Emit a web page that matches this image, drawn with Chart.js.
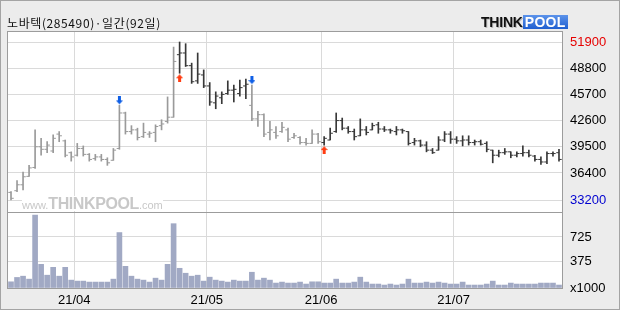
<!DOCTYPE html>
<html>
<head>
<meta charset="utf-8">
<script src="https://cdn.jsdelivr.net/npm/chart.js@4.4.0/dist/chart.umd.min.js"></script>
<style>
html, body { margin: 0; padding: 0; }
body { width: 620px; height: 310px; overflow: hidden; }
#frame { position: relative; width: 620px; height: 310px; background: #ececec; font-family: "Liberation Sans", Arial, sans-serif; }
#chart { position: absolute; left: 0; top: 0; }
#edge { position: absolute; left: 0; top: 0; width: 620px; height: 310px; box-sizing: border-box; border: 1px solid #a4a4a4; pointer-events: none; }
#title { position: absolute; left: 7px; top: 14px; font: 12px "Noto Sans CJK KR", sans-serif; color: #111; white-space: nowrap; letter-spacing: 0.6px; }
#logo { position: absolute; left: 481px; top: 15px; height: 14px; white-space: nowrap; font: bold 14px "Liberation Sans", Arial, sans-serif; line-height: 14px; }
#logo .think { color: #111; text-shadow: 1px 1px 0 #bbb; letter-spacing: -0.2px; }
#logo .pool { display: inline-block; background: linear-gradient(#5c93ea, #1f5fd0); color: #fff; padding: 0 2px; letter-spacing: 0.3px; }
#wm { position: absolute; left: 22px; top: 196px; height: 15px; background: #fff; color: #c8c8c8; white-space: nowrap; font-family: "Liberation Sans", Arial, sans-serif; line-height: 15px; }
#wm .s { font-size: 11px; }
#wm .b { font-size: 16px; font-weight: bold; letter-spacing: -0.4px; }
</style>
</head>
<body>
<div id="frame">
  <canvas id="chart" width="620" height="310"></canvas>
  <div id="wm"><span class="s">www.</span><span class="b">THINKPOOL</span><span class="s">.com</span></div>
  <div id="title">노바텍(285490)·일간(92일)</div>
  <div id="logo"><span class="think">THINK</span><span class="pool">POOL</span></div>
  <div id="edge"></div>
</div>
<script>
// trading days shown on the chart
const dates = [
  '21/03/17','21/03/18','21/03/19','21/03/22','21/03/23','21/03/24','21/03/25','21/03/26','21/03/29','21/03/30','21/03/31',
  '21/04/01','21/04/02','21/04/05','21/04/06','21/04/07','21/04/08','21/04/09','21/04/12','21/04/13','21/04/14','21/04/15',
  '21/04/16','21/04/19','21/04/20','21/04/21','21/04/22','21/04/23','21/04/26','21/04/27','21/04/28','21/04/29','21/04/30',
  '21/05/03','21/05/04','21/05/06','21/05/07','21/05/10','21/05/11','21/05/12','21/05/13','21/05/14','21/05/17','21/05/18',
  '21/05/20','21/05/21','21/05/24','21/05/25','21/05/26','21/05/27','21/05/28','21/05/31',
  '21/06/01','21/06/02','21/06/03','21/06/04','21/06/07','21/06/08','21/06/09','21/06/10','21/06/11','21/06/14','21/06/15',
  '21/06/16','21/06/17','21/06/18','21/06/21','21/06/22','21/06/23','21/06/24','21/06/25','21/06/28','21/06/29','21/06/30',
  '21/07/01','21/07/02','21/07/05','21/07/06','21/07/07','21/07/08','21/07/09','21/07/12','21/07/13','21/07/14','21/07/15',
  '21/07/16','21/07/19','21/07/20','21/07/21','21/07/22','21/07/23','21/07/26'
];

const opens = [
  34100,34300,35000,36000,37050,39500,39200,39000,41000,40200,
  38800,38500,39300,38600,38100,38300,38000,37900,39300,43500,
  41300,41500,40700,41000,41200,42000,42500,43000,50400,50600,
  49100,47300,48000,46700,44700,45300,45800,46200,45800,46700,
  44400,42800,43300,41200,41200,41300,41500,40600,40600,40000,
  39900,41000,40000,40300,41300,42600,41700,41300,40800,41500,
  41500,42100,41600,41500,41300,41500,41300,40000,40200,39700,
  39100,39100,40300,41000,40400,40200,40300,40000,40100,39900,
  39100,38500,38800,38900,38500,38700,38800,38400,38000,37700,
  38700,38800
];
const highs = [
  34200,35500,36500,37300,41500,40500,40100,40900,41300,40300,
  38900,39900,39600,38700,38600,38600,38200,39300,44400,43600,
  42000,41700,42300,41300,42100,42700,45400,51300,51900,51700,
  49400,50600,48600,47100,46000,46000,47300,46800,47400,47500,
  46800,43700,43400,42500,41900,42400,41700,41100,40700,40500,
  41500,41100,40700,41700,43500,42900,41900,41600,42800,41900,
  42300,42400,41900,41600,41900,41600,41300,40500,40300,40100,
  39300,40700,41300,41300,40700,40800,40800,40300,40300,40100,
  39100,39100,39300,38900,38900,39600,39100,38500,38300,38900,
  38900,39200
];
const lows = [
  33200,34200,34400,36000,36950,38500,38800,38800,40100,38300,
  37800,38400,38400,37800,37900,37800,37300,37900,39200,41000,
  41000,40300,40600,40600,40100,41500,42300,43000,48200,49000,
  47000,47000,46500,44400,44000,44600,45700,44800,45500,45200,
  42600,41900,40700,40300,40500,41200,40100,40500,39800,39700,
  39900,39900,39700,40300,41200,41500,41100,40300,40800,40900,
  41500,41100,41300,41100,40900,41100,39700,39700,39500,38900,
  38700,39100,40100,39900,39900,39600,39700,39700,39700,38900,
  37600,38300,38600,38200,38300,38400,38300,37800,37400,37500,
  38400,37800
];
const closes = [
  33400,35000,35950,37000,39500,39200,39700,40500,40800,38500,
  38300,39300,38600,38000,38300,38000,37600,39100,43500,41300,
  41500,40600,41200,41100,41900,42200,43000,49600,50600,49100,
  47200,48100,46700,44800,45500,45700,46200,46300,46500,46900,
  42800,43300,41000,41500,40800,41800,40400,40800,40000,39900,
  41000,40100,40500,41100,42600,41700,41300,40700,41500,41200,
  42000,41600,41500,41400,41500,41400,39900,40200,39700,39100,
  38800,40300,41000,40400,40200,40300,40000,40100,39800,39200,
  38500,38800,38900,38500,38700,38800,38500,38000,37700,38700,
  38700,38000
];
// volume, in thousands of shares
const volumes = [
  88,150,168,126,1036,336,182,294,168,294,
  112,98,98,84,84,84,84,126,788,308,
  168,126,112,84,140,112,336,914,280,210,
  168,182,98,154,112,98,84,112,98,98,
  224,112,140,112,70,84,70,70,84,56,
  88,88,70,70,126,70,70,84,154,84,
  56,56,42,56,42,56,126,70,70,84,
  70,84,70,56,56,84,42,42,42,56,
  98,42,42,70,56,56,56,56,70,70,
  70,42
];
// signal days: buy = red up arrow, sell = blue down arrow
const buyDays = [28, 52];
const sellDays = [18, 40];

const priceTicks = [51900, 48800, 45700, 42600, 39500, 36400, 33200];
const volumeTicks = [725, 375, 0];

const GREY = '#9a9a9a';
const DARK = '#383838';

// bars are dark while the last signal was a buy
const barColors = dates.map((_, i) => {
  const lastBuy = Math.max(-1, ...buyDays.filter(d => d <= i));
  const lastSell = Math.max(-1, ...sellDays.filter(d => d <= i));
  return lastBuy > lastSell ? DARK : GREY;
});

const monthStarts = dates.map((d, i) => i).filter(i => i > 0 && dates[i].slice(0, 5) !== dates[i - 1].slice(0, 5));

function makeArrow(fill, down) {
  const w = 7, h = 8, gap = 1;
  const c = document.createElement('canvas');
  c.width = w;
  c.height = 2 * (h + gap);
  const g = c.getContext('2d');
  if (!down) { g.translate(0, c.height); g.scale(1, -1); }
  g.fillStyle = fill;
  g.beginPath();
  g.moveTo(2, 0); g.lineTo(5, 0); g.lineTo(5, 4); g.lineTo(7, 4);
  g.lineTo(3.5, h); g.lineTo(0, 4); g.lineTo(2, 4);
  g.closePath();
  g.fill();
  return c;
}

const framePlugin = {
  id: 'frame',
  beforeDraw(chart) {
    const { ctx, chartArea: a } = chart;
    ctx.save();
    ctx.fillStyle = '#ffffff';
    ctx.fillRect(a.left, a.top, a.width, a.height);
    ctx.restore();
  },
  afterDatasetsDraw(chart) {
    const { ctx, chartArea: a } = chart;
    const l = Math.round(a.left) - 0.5, r = Math.round(a.right) + 0.5;
    const t = Math.round(a.top) - 0.5, b = Math.round(a.bottom) + 0.5;
    const mid = Math.round(chart.scales.y.bottom) + 0.5;
    ctx.save();
    ctx.strokeStyle = '#9c9c9c';
    ctx.lineWidth = 1;
    ctx.strokeRect(l, t, r - l, b - t);
    ctx.beginPath();
    ctx.moveTo(l, mid);
    ctx.lineTo(r, mid);
    ctx.stroke();
    ctx.restore();
  }
};

const idx = dates.map((_, i) => i);
const gridColor = '#dadada';
const tickFont = { family: '"Liberation Sans Narrow", "Liberation Sans", Arial, sans-serif', size: 13 };

new Chart(document.getElementById('chart'), {
  type: 'bar',
  data: {
    datasets: [
      {
        type: 'line', showLine: false,
        data: sellDays.map(i => ({ x: i, y: highs[i] })),
        pointStyle: makeArrow('#0f5fe6', true), pointRadius: 4,
        yAxisID: 'y'
      },
      {
        type: 'line', showLine: false,
        data: buyDays.map(i => ({ x: i, y: lows[i] })),
        pointStyle: makeArrow('#ff3d12', false), pointRadius: 4,
        yAxisID: 'y'
      },
      {
        type: 'line', showLine: false,
        data: idx.map(i => ({ x: i - 0.22, y: opens[i] })),
        pointStyle: 'line', pointRadius: 1.4, pointBorderWidth: 1,
        pointBorderColor: c => barColors[c.dataIndex],
        yAxisID: 'y'
      },
      {
        type: 'line', showLine: false,
        data: idx.map(i => ({ x: i + 0.22, y: closes[i] })),
        pointStyle: 'line', pointRadius: 1.4, pointBorderWidth: 1,
        pointBorderColor: c => barColors[c.dataIndex],
        yAxisID: 'y'
      },
      {
        data: idx.map(i => ({ x: i, y: [lows[i], highs[i]] })),
        backgroundColor: c => barColors[c.dataIndex],
        barThickness: 1, grouped: false, borderWidth: 0,
        yAxisID: 'y'
      },
      {
        data: idx.map(i => ({ x: i, y: volumes[i] })),
        backgroundColor: '#a1a9c4',
        barThickness: 5, grouped: false, borderWidth: 0,
        yAxisID: 'yv'
      }
    ]
  },
  options: {
    responsive: false,
    animation: false,
    devicePixelRatio: 1,
    events: [],
    layout: { padding: { left: 8, top: 32, right: 0, bottom: 0 } },
    plugins: { legend: { display: false }, tooltip: { enabled: false } },
    scales: {
      x: {
        type: 'linear', min: -0.5, max: 91.5, offset: false,
        grid: { color: gridColor, offset: false, drawTicks: false },
        border: { display: false },
        ticks: {
          font: tickFont, color: '#000', padding: 5, maxRotation: 0, autoSkip: false,
          callback: v => dates[v + 0.5].slice(0, 5)
        },
        afterBuildTicks: s => { s.ticks = monthStarts.map(i => ({ value: i - 0.5 })); },
        afterFit: s => { s.height = 22; }
      },
      y: {
        type: 'linear', position: 'right', stack: 'panes', stackWeight: 180,
        min: 31780, max: 53084,
        grid: { color: gridColor, drawTicks: false },
        border: { display: false },
        ticks: {
          font: tickFont, padding: 8, autoSkip: false,
          color: c => c.tick.value === Math.max(...priceTicks) ? '#e60000'
            : c.tick.value === Math.min(...priceTicks) ? '#0000d0' : '#000',
          callback: v => String(v)
        },
        afterBuildTicks: s => { s.ticks = priceTicks.slice().sort((a, b) => a - b).map(v => ({ value: v })); },
        afterFit: s => { s.width = 58; }
      },
      yv: {
        type: 'linear', position: 'right', stack: 'panes', stackWeight: 76,
        min: 0, max: 1080,
        grid: { color: gridColor, drawTicks: false },
        border: { display: false },
        ticks: {
          font: tickFont, padding: 8, color: '#000', autoSkip: false,
          callback: v => v === 0 ? 'x1000' : String(v)
        },
        afterBuildTicks: s => { s.ticks = volumeTicks.slice().sort((a, b) => a - b).map(v => ({ value: v })); },
        afterFit: s => { s.width = 58; }
      }
    }
  },
  plugins: [framePlugin]
});
</script>
</body>
</html>
